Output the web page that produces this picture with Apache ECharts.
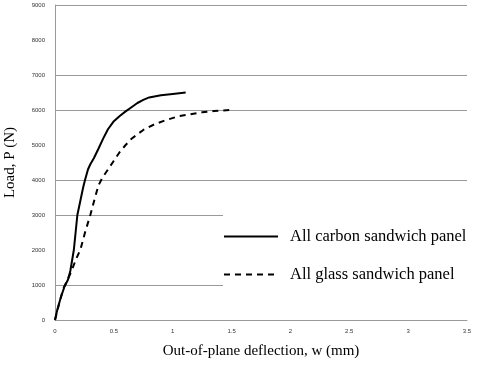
<!DOCTYPE html>
<html>
<head>
<meta charset="utf-8">
<script src="https://cdn.jsdelivr.net/npm/echarts@6/dist/echarts.min.js"></script>
<style>
  html, body { margin: 0; padding: 0; background: #fff; }
  #main { width: 477px; height: 375px; }
</style>
</head>
<body>
<div id="main"></div>
<script>
var chartDom = document.getElementById('main');
var myChart = echarts.init(chartDom);
var option;

// deflection (mm), load (N)
const carbonData = [
    [0, 0], [0.02, 300], [0.05, 650], [0.08, 950], [0.11, 1150], [0.13, 1400],
    [0.15, 1800], [0.16, 2000], [0.175, 2500], [0.19, 3000], [0.215, 3400],
    [0.24, 3800], [0.255, 4000], [0.28, 4300], [0.3, 4450], [0.33, 4620],
    [0.37, 4900], [0.41, 5190], [0.45, 5450], [0.5, 5680], [0.55, 5830],
    [0.6, 5960], [0.65, 6080], [0.7, 6200], [0.75, 6290], [0.8, 6360],
    [0.9, 6420], [1.0, 6460], [1.11, 6500]
];
const glassData = [
    [0, 0], [0.03, 400], [0.07, 900], [0.1, 1100], [0.14, 1400], [0.18, 1750],
    [0.215, 2000], [0.255, 2500], [0.3, 3000], [0.34, 3500], [0.37, 3850],
    [0.4, 4050], [0.45, 4300], [0.5, 4550], [0.55, 4800], [0.6, 5000],
    [0.65, 5180], [0.75, 5430], [0.85, 5600], [0.95, 5720], [1.05, 5820],
    [1.15, 5880], [1.25, 5935], [1.35, 5970], [1.48, 6000]
];
const seriesNames = ['All carbon sandwich panel', 'All glass sandwich panel'];
// gridlines that show in the picture
const gridLoads = [1000, 3000, 4000, 6000, 7000, 9000];

const serif = 'Liberation Serif, Times New Roman, serif';

option = {
    animation: false,
    grid: {
        left: 55,
        right: 10,
        top: 5,
        bottom: 55,
        outerBoundsMode: 'none'
    },
    legend: {
        orient: 'vertical',
        left: 223,
        top: 208,
        z: 20,
        padding: [20, 6, 20, 0],
        backgroundColor: '#fff',
        itemWidth: 54,
        itemHeight: 14,
        itemGap: 21,
        itemStyle: { opacity: 0 },
        textStyle: {
            fontFamily: serif, fontSize: 16.5, color: '#000',
            padding: [0, 0, 0, 7]
        },
        data: seriesNames
    },
    xAxis: {
        type: 'value',
        min: 0,
        max: 3.5,
        interval: 0.5,
        name: 'Out-of-plane deflection, w (mm)',
        nameLocation: 'middle',
        nameGap: 24,
        nameTextStyle: { fontFamily: serif, fontSize: 15, color: '#000' },
        axisLine: { lineStyle: { color: '#999', width: 1 } },
        axisTick: { show: false },
        axisLabel: { fontSize: 6, color: '#333', margin: 8 },
        splitLine: { show: false }
    },
    yAxis: {
        type: 'value',
        min: 0,
        max: 9000,
        interval: 1000,
        name: 'Load, P (N)',
        nameLocation: 'middle',
        nameGap: 37,
        nameTextStyle: { fontFamily: serif, fontSize: 15, color: '#000' },
        axisLine: { show: true, lineStyle: { color: '#999', width: 1 } },
        axisTick: { show: false },
        axisLabel: {
            fontSize: 6, color: '#333', margin: 10,
            formatter: function (v) { return String(v); }
        },
        splitLine: { show: false }
    },
    series: [
        {
            name: seriesNames[0],
            type: 'line',
            symbol: 'none',
            data: carbonData,
            lineStyle: { color: '#000', width: 2 },
            itemStyle: { color: '#000' },
            z: 2,
            markLine: {
                silent: true,
                symbol: 'none',
                animation: false,
                z: 1,
                label: { show: false },
                lineStyle: { color: '#999', width: 1, type: 'solid' },
                data: gridLoads.map(function (v) { return { yAxis: v }; })
            }
        },
        {
            name: seriesNames[1],
            type: 'line',
            symbol: 'none',
            data: glassData,
            lineStyle: { color: '#000', width: 2, type: [6, 5] },
            itemStyle: { color: '#000' },
            z: 2
        }
    ]
};

option && myChart.setOption(option);
</script>
</body>
</html>
